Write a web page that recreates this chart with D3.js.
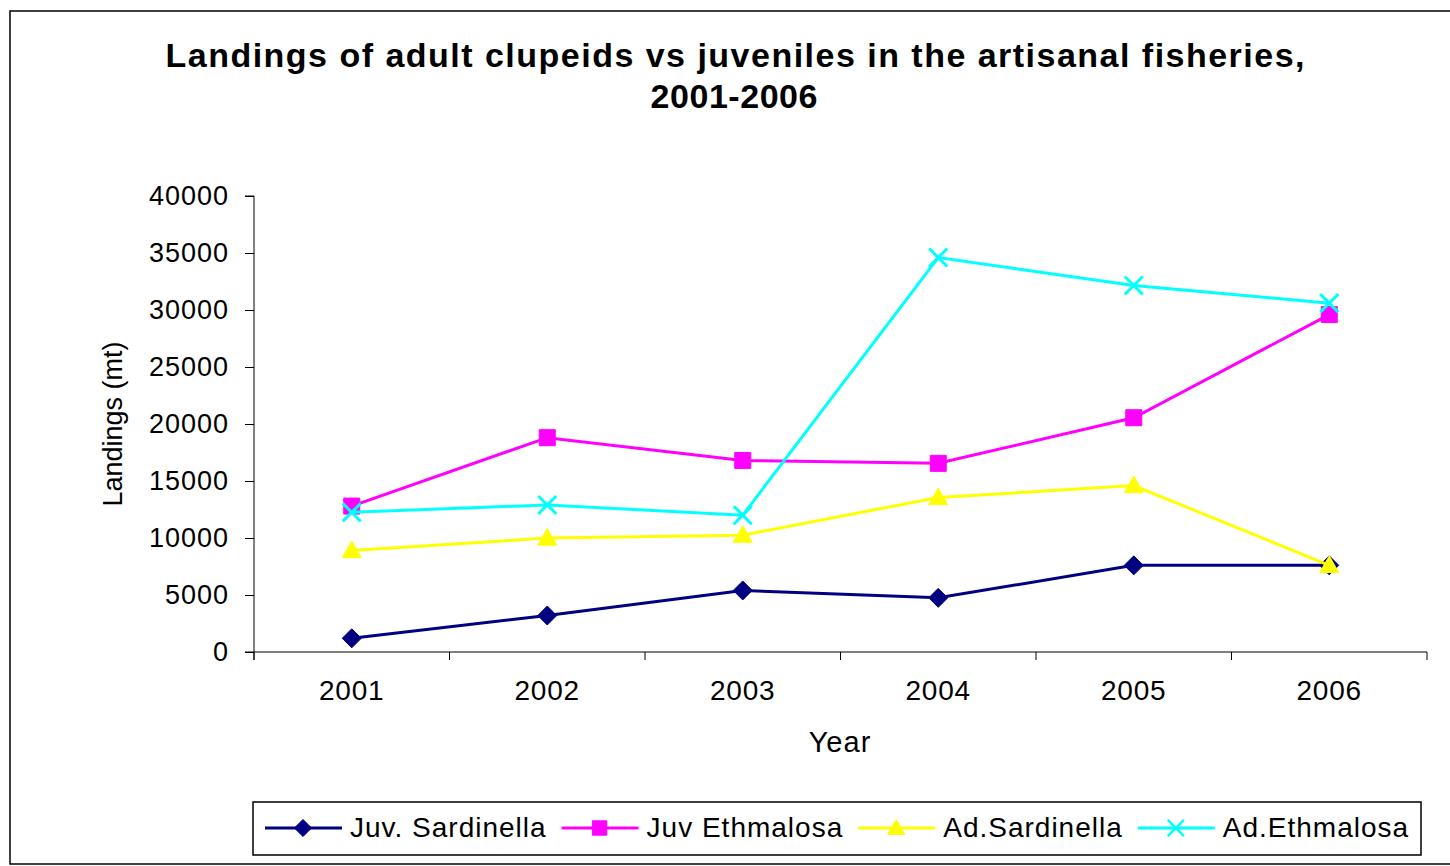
<!DOCTYPE html>
<html>
<head>
<meta charset="utf-8">
<script src="https://cdn.jsdelivr.net/npm/d3@7"></script>
<style>
  body { margin: 0; background: #fff; }
  text { font-family: Arial, "Liberation Sans", sans-serif; fill: #000; }
</style>
</head>
<body>
<svg width="1450" height="866"></svg>
<script>
// data
var years = ["2001", "2002", "2003", "2004", "2005", "2006"];
var juvSardinella = [1200, 3200, 5400, 4750, 7600, 7600];
var juvEthmalosa = [12800, 18800, 16800, 16550, 20550, 29600];
var adSardinella = [8900, 10000, 10250, 13550, 14600, 7600];
var adEthmalosa = [12250, 12900, 12000, 34600, 32150, 30600];
var yTicks = [0, 5000, 10000, 15000, 20000, 25000, 30000, 35000, 40000];
var seriesNames = ["Juv. Sardinella", "Juv Ethmalosa", "Ad.Sardinella", "Ad.Ethmalosa"];

var series = [
    { name: seriesNames[0], values: juvSardinella, color: "#000080", shape: "diamond" },
    { name: seriesNames[1], values: juvEthmalosa, color: "#FF00FF", shape: "square" },
    { name: seriesNames[2], values: adSardinella, color: "#FFFF00", shape: "triangle" },
    { name: seriesNames[3], values: adEthmalosa, color: "#00FFFF", shape: "x" }
];

var svg = d3.select("svg");

// outer frame
svg.append("rect")
    .attr("x", 10).attr("y", 11)
    .attr("width", 1460).attr("height", 853)
    .attr("fill", "none").attr("stroke", "#000").attr("stroke-width", 1.5);

// title
var title = svg.append("g").attr("font-weight", "bold").attr("font-size", "34px");
title.append("text")
    .attr("x", 735).attr("y", 67)
    .attr("text-anchor", "middle")
    .attr("textLength", 1139).attr("lengthAdjust", "spacing")
    .text("Landings of adult clupeids vs juveniles in the artisanal fisheries,");
title.append("text")
    .attr("x", 734).attr("y", 108)
    .attr("text-anchor", "middle")
    .attr("textLength", 167).attr("lengthAdjust", "spacing")
    .text("2001-2006");

var plotLeft = 254, plotRight = 1427, plotTop = 196, plotBottom = 652;

var x = d3.scaleBand().domain(years).range([plotLeft, plotRight]).padding(0);
var y = d3.scaleLinear().domain([0, 40000]).range([plotBottom, plotTop]);

function cx(i) { return x(years[i]) + x.bandwidth() / 2; }

// y axis
var yAxis = svg.append("g")
    .attr("transform", "translate(" + plotLeft + ",0)")
    .call(d3.axisLeft(y).tickValues(yTicks).tickSize(9).tickPadding(16).tickFormat(d3.format("d")));
yAxis.select(".domain").attr("stroke", "#000").attr("d", "M-9," + plotTop + "H0V" + (plotBottom + 8));
yAxis.selectAll(".tick line").attr("stroke", "#000");
yAxis.selectAll(".tick text")
    .attr("font-size", "27px")
    .attr("letter-spacing", "1px")
    .attr("font-family", "Arial, 'Liberation Sans', sans-serif")
    .attr("fill", "#000");

// x axis: ticks sit on the band edges, labels in the middle
var xAxis = svg.append("g").attr("transform", "translate(0," + plotBottom + ")");
xAxis.append("line")
    .attr("x1", plotLeft - 9).attr("x2", plotRight)
    .attr("stroke", "#000");
var edges = years.map(function(d) { return x(d); }).concat([plotRight]);
xAxis.selectAll(".edge")
    .data(edges)
    .enter().append("line")
    .attr("class", "edge")
    .attr("x1", function(d) { return d; }).attr("x2", function(d) { return d; })
    .attr("y1", 0).attr("y2", 8)
    .attr("stroke", "#000");
xAxis.selectAll(".lbl")
    .data(years)
    .enter().append("text")
    .attr("class", "lbl")
    .attr("x", function(d) { return x(d) + x.bandwidth() / 2; })
    .attr("y", 48)
    .attr("text-anchor", "middle")
    .attr("font-size", "28px")
    .attr("letter-spacing", "0.8px")
    .text(function(d) { return d; });

// axis titles
svg.append("text")
    .attr("x", 840).attr("y", 752)
    .attr("text-anchor", "middle")
    .attr("font-size", "29px")
    .attr("letter-spacing", "1px")
    .text("Year");
svg.append("text")
    .attr("transform", "translate(122,424) rotate(-90)")
    .attr("text-anchor", "middle")
    .attr("font-size", "27px")
    .text("Landings (mt)");

// marker paths
function marker(shape, s) {
    if (shape === "diamond") return "M0," + (-s) + "L" + s + ",0L0," + s + "L" + (-s) + ",0Z";
    if (shape === "square") return "M" + (-s) + "," + (-s) + "H" + s + "V" + s + "H" + (-s) + "Z";
    if (shape === "triangle") return "M0," + (-s) + "L" + s + "," + (s * 0.75) + "L" + (-s) + "," + (s * 0.75) + "Z";
    return "M" + (-s) + "," + (-s) + "L" + s + "," + s + "M" + (-s) + "," + s + "L" + s + "," + (-s);
}
var markerSize = { diamond: 9.5, square: 8, triangle: 9.5, x: 9 };

var line = d3.line()
    .x(function(d, i) { return cx(i); })
    .y(function(d) { return y(d); });

series.forEach(function(s) {
    var g = svg.append("g");
    g.append("path")
        .datum(s.values)
        .attr("d", line)
        .attr("fill", "none")
        .attr("stroke", s.color)
        .attr("stroke-width", 3);
    g.selectAll(".pt")
        .data(s.values)
        .enter().append("path")
        .attr("class", "pt")
        .attr("transform", function(d, i) { return "translate(" + cx(i) + "," + y(d) + ")"; })
        .attr("d", marker(s.shape, markerSize[s.shape]))
        .attr("fill", s.shape === "x" ? "none" : s.color)
        .attr("stroke", s.color)
        .attr("stroke-width", s.shape === "x" ? 3 : 1);
});

// legend
var legend = svg.append("g");
legend.append("rect")
    .attr("x", 253).attr("y", 802)
    .attr("width", 1168).attr("height", 53)
    .attr("fill", "#fff").attr("stroke", "#000").attr("stroke-width", 1.5);

var lx = 265;
series.forEach(function(s) {
    var item = legend.append("g");
    item.append("line")
        .attr("x1", lx).attr("x2", lx + 77)
        .attr("y1", 828).attr("y2", 828)
        .attr("stroke", s.color).attr("stroke-width", 3);
    item.append("path")
        .attr("transform", "translate(" + (lx + 38) + ",828)")
        .attr("d", marker(s.shape, markerSize[s.shape] * 0.9))
        .attr("fill", s.shape === "x" ? "none" : s.color)
        .attr("stroke", s.color)
        .attr("stroke-width", s.shape === "x" ? 2.5 : 1);
    var t = item.append("text")
        .attr("x", lx + 85).attr("y", 837)
        .attr("font-size", "28px")
        .attr("letter-spacing", "1px")
        .text(s.name);
    lx = lx + 85 + t.node().getComputedTextLength() + 15;
});
</script>
</body>
</html>
